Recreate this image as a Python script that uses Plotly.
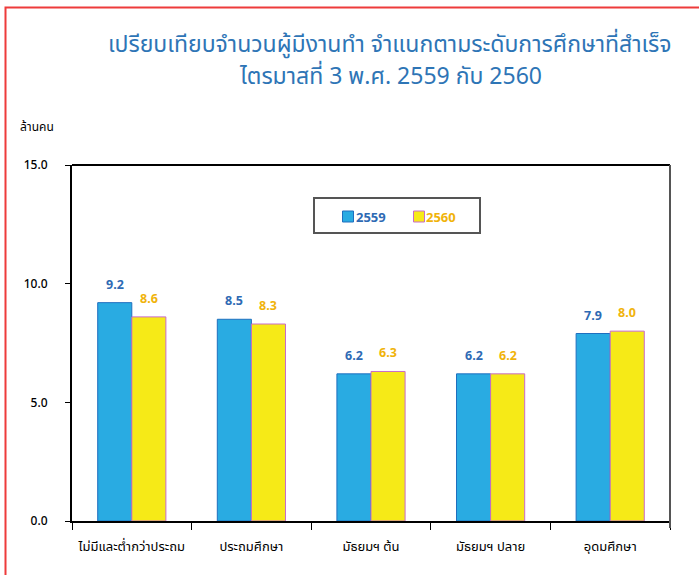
import plotly.graph_objects as go

categories = ["ไม่มีและต่ำกว่าประถม", "ประถมศึกษา", "มัธยมฯ ต้น", "มัธยมฯ ปลาย", "อุดมศึกษา"]
series_names = ["2559", "2560"]
values_2559 = [9.2, 8.5, 6.2, 6.2, 7.9]
values_2560 = [8.6, 8.3, 6.3, 6.2, 8.0]
y_ticks = [0, 5, 10, 15]
y_tick_labels = ["0.0", "5.0", "10.0", "15.0"]

title_line1 = "เปรียบเทียบจำนวนผู้มีงานทำ จำแนกตามระดับการศึกษาที่สำเร็จ"
title_line2 = "ไตรมาสที่ 3 พ.ศ. 2559 กับ 2560"
unit_text = "ล้านคน"

BLUE = "#29ABE2"
BLUE_LINE = "#1F6FBF"
BLUE_TXT = "#2E6AB4"
YELLOW = "#F6EA17"
YELLOW_LINE = "#C86CC8"
GOLD_TXT = "#F0B30A"
TITLE_COLOR = "#2E75B6"
THAI_FONT = "Noto Sans Thai, Tahoma, Noto Sans, DejaVu Sans, sans-serif"
NUM_FONT = "Noto Sans, DejaVu Sans, sans-serif"

W, H = 699, 575
L, R, T, B = 72, 29, 165, 54
pw, ph = W - L - R, H - T - B


def px(x):
    return (x - L) / pw


def py(y):
    return (H - B - y) / ph


fig = go.Figure()
fig.add_trace(go.Bar(
    x=categories, y=values_2559, name=series_names[0], showlegend=False,
    marker=dict(color=BLUE, line=dict(color=BLUE_LINE, width=1)),
))
fig.add_trace(go.Bar(
    x=categories, y=values_2560, name=series_names[1], showlegend=False,
    marker=dict(color=YELLOW, line=dict(color=YELLOW_LINE, width=1)),
))

annotations = []
for cat, v in zip(categories, values_2559):
    annotations.append(dict(x=cat, y=v, xref="x", yref="y", text="%.1f" % v,
                            showarrow=False, xshift=-17, yshift=8, yanchor="bottom",
                            font=dict(family=NUM_FONT, size=12.5, color=BLUE_TXT, weight="bold")))
for cat, v in zip(categories, values_2560):
    annotations.append(dict(x=cat, y=v, xref="x", yref="y", text="%.1f" % v,
                            showarrow=False, xshift=17, yshift=8, yanchor="bottom",
                            font=dict(family=NUM_FONT, size=12.5, color=GOLD_TXT, weight="bold")))

# titles and unit label
annotations.append(dict(x=px(390), y=py(45), xref="paper", yref="paper", text=title_line1,
                        showarrow=False, xanchor="center", yanchor="middle",
                        font=dict(family=THAI_FONT, size=23, color=TITLE_COLOR)))
annotations.append(dict(x=px(390), y=py(77), xref="paper", yref="paper", text=title_line2,
                        showarrow=False, xanchor="center", yanchor="middle",
                        font=dict(family=THAI_FONT, size=23, color=TITLE_COLOR)))
annotations.append(dict(x=px(37), y=py(127), xref="paper", yref="paper", text=unit_text,
                        showarrow=False, xanchor="center", yanchor="middle",
                        font=dict(family=THAI_FONT, size=12, color="black")))

# manual legend entries
legend_colors = [(BLUE, BLUE_LINE, BLUE_TXT, 348, 371), (YELLOW, YELLOW_LINE, GOLD_TXT, 419, 441)]
shapes = [
    # outer red frame (partly off-canvas)
    dict(type="rect", xref="paper", yref="paper", x0=px(5.5), x1=px(720), y0=py(600), y1=py(7.5),
         line=dict(color="#EE3B3B", width=2), layer="below"),
    # top frame line
    dict(type="line", xref="paper", yref="paper", x0=0, x1=1, y0=1, y1=1,
         line=dict(color="black", width=2)),
    # right frame line
    dict(type="line", xref="paper", yref="paper", x0=1, x1=1, y0=py(528), y1=1,
         line=dict(color="#555555", width=2)),
    # legend box
    dict(type="rect", xref="paper", yref="paper", x0=px(314), x1=px(480), y0=py(233), y1=py(198),
         line=dict(color="#555555", width=2), fillcolor="white"),
]
for (fill, line, txt, cx, tx), name in zip(legend_colors, series_names):
    shapes.append(dict(type="rect", xref="paper", yref="paper",
                       x0=px(cx - 5.5), x1=px(cx + 5.5), y0=py(222), y1=py(211),
                       line=dict(color=line, width=1), fillcolor=fill))
    annotations.append(dict(x=px(tx), y=py(217), xref="paper", yref="paper", text=name,
                            showarrow=False, xanchor="center", yanchor="middle",
                            font=dict(family=NUM_FONT, size=13, color=txt, weight="bold")))

fig.update_layout(
    width=W, height=H,
    margin=dict(l=L, r=R, t=T, b=B, pad=0),
    paper_bgcolor="white", plot_bgcolor="white",
    barmode="group", bargap=0.43, bargroupgap=0,
    showlegend=False,
    annotations=annotations,
    shapes=shapes,
    xaxis=dict(showline=True, linecolor="black", linewidth=2, ticks="outside", tickson="boundaries",
               ticklen=7, tickcolor="black", tickwidth=1, showgrid=False,
               tickfont=dict(family=THAI_FONT, size=13, color="black"), ticklabelstandoff=12),
    yaxis=dict(range=[0, 15], tickvals=y_ticks, ticktext=y_tick_labels, showline=True, linecolor="black",
               linewidth=2, ticks="outside", ticklen=5, tickcolor="black", showgrid=False, zeroline=False,
               tickfont=dict(family=NUM_FONT, size=12, color="black", weight=500), ticklabelstandoff=15),
)

fig.write_html("out.html", config={"displayModeBar": False},
               post_script="document.body.style.margin='0';")
